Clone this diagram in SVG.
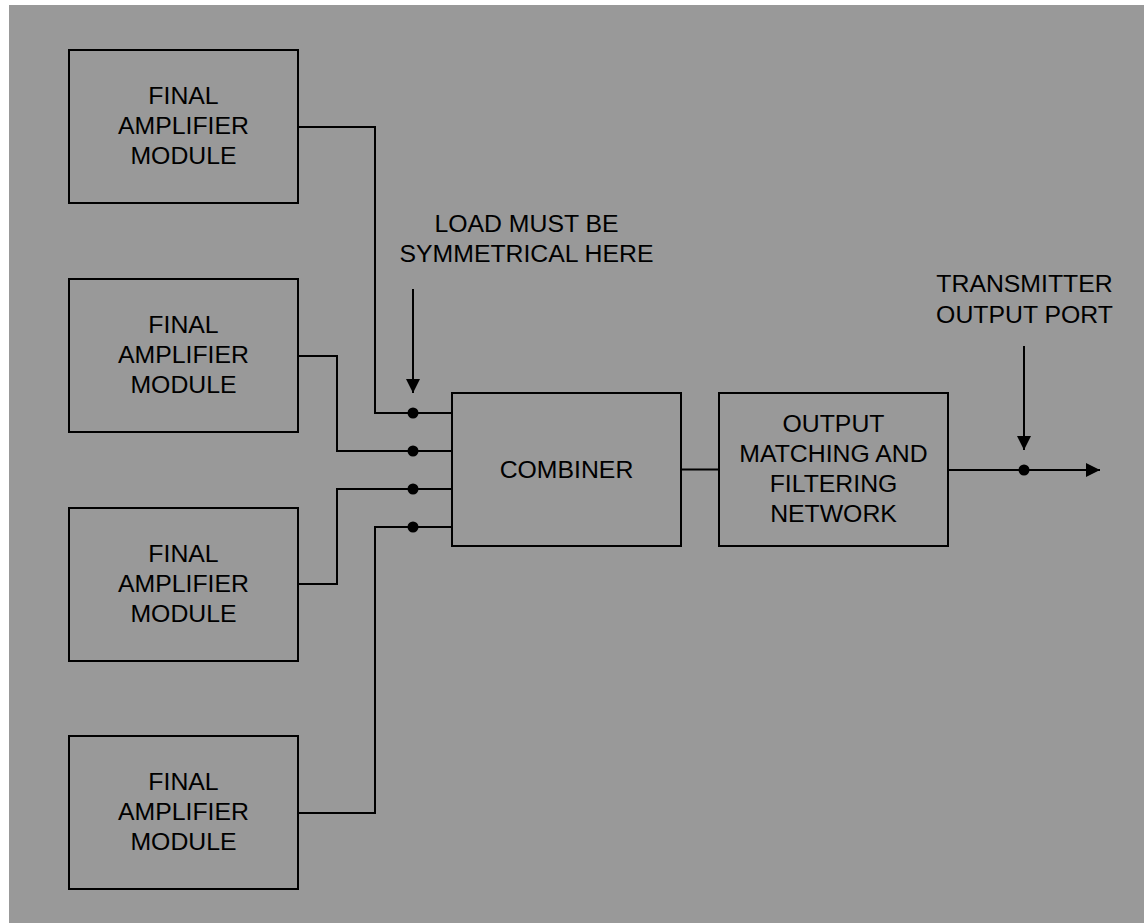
<svg xmlns="http://www.w3.org/2000/svg" width="1144" height="923" viewBox="0 0 1144 923">
<defs>
<marker id="arr" markerUnits="userSpaceOnUse" markerWidth="14" markerHeight="14" viewBox="0 0 13 13" refX="13" refY="6.5" orient="auto">
<path d="M0,0 L13,6.5 L0,13 Z" fill="#000"/>
</marker>
<style>
.box{fill:none;stroke:#000;stroke-width:2}
.ln{fill:none;stroke:#000;stroke-width:2}
.dot{fill:#000}
text{font-family:"Liberation Sans",Arial,sans-serif;font-size:24.8px;fill:#000;text-anchor:middle}
</style>
</defs>
<rect x="9" y="5" width="1135" height="918" fill="#999999"/>
<g id="amp1"><rect class="box" x="69" y="50" width="229" height="153"/>
<text x="183.5" y="104">FINAL</text><text x="183.5" y="134">AMPLIFIER</text><text x="183.5" y="164">MODULE</text></g>
<g id="amp2"><rect class="box" x="69" y="279" width="229" height="153"/>
<text x="183.5" y="333">FINAL</text><text x="183.5" y="363">AMPLIFIER</text><text x="183.5" y="393">MODULE</text></g>
<g id="amp3"><rect class="box" x="69" y="508" width="229" height="153"/>
<text x="183.5" y="562">FINAL</text><text x="183.5" y="592">AMPLIFIER</text><text x="183.5" y="622">MODULE</text></g>
<g id="amp4"><rect class="box" x="69" y="736" width="229" height="153"/>
<text x="183.5" y="790">FINAL</text><text x="183.5" y="820">AMPLIFIER</text><text x="183.5" y="850">MODULE</text></g>
<g id="combiner"><rect class="box" x="452" y="393" width="229" height="153"/>
<text x="566.5" y="478">COMBINER</text></g>
<g id="output"><rect class="box" x="719" y="393" width="229" height="153"/>
<text x="833.5" y="432">OUTPUT</text><text x="833.5" y="462">MATCHING AND</text><text x="833.5" y="492">FILTERING</text><text x="833.5" y="522">NETWORK</text></g>
<g id="label-load"><text x="526.5" y="232">LOAD MUST BE</text><text x="526.5" y="262">SYMMETRICAL HERE</text></g>
<g id="label-port"><text x="1024.5" y="292">TRANSMITTER</text><text x="1024.5" y="323">OUTPUT PORT</text></g>
<g id="connectors">
<polyline class="ln" points="298,127 375,127 375,413 452,413"/>
<polyline class="ln" points="298,356 337,356 337,451 452,451"/>
<polyline class="ln" points="298,584 337,584 337,489 452,489"/>
<polyline class="ln" points="298,813 375,813 375,527 452,527"/>
<line class="ln" x1="681" y1="469.5" x2="719" y2="469.5"/>
<line class="ln" x1="948" y1="470" x2="1100" y2="470" marker-end="url(#arr)"/>
<line class="ln" x1="413" y1="289" x2="413" y2="393" marker-end="url(#arr)"/>
<line class="ln" x1="1024" y1="346" x2="1024" y2="450" marker-end="url(#arr)"/>
<circle class="dot" cx="413" cy="413" r="5.5"/>
<circle class="dot" cx="413" cy="451" r="5.5"/>
<circle class="dot" cx="413" cy="489" r="5.5"/>
<circle class="dot" cx="413" cy="527" r="5.5"/>
<circle class="dot" cx="1024" cy="470" r="5.5"/>
</g>
</svg>
